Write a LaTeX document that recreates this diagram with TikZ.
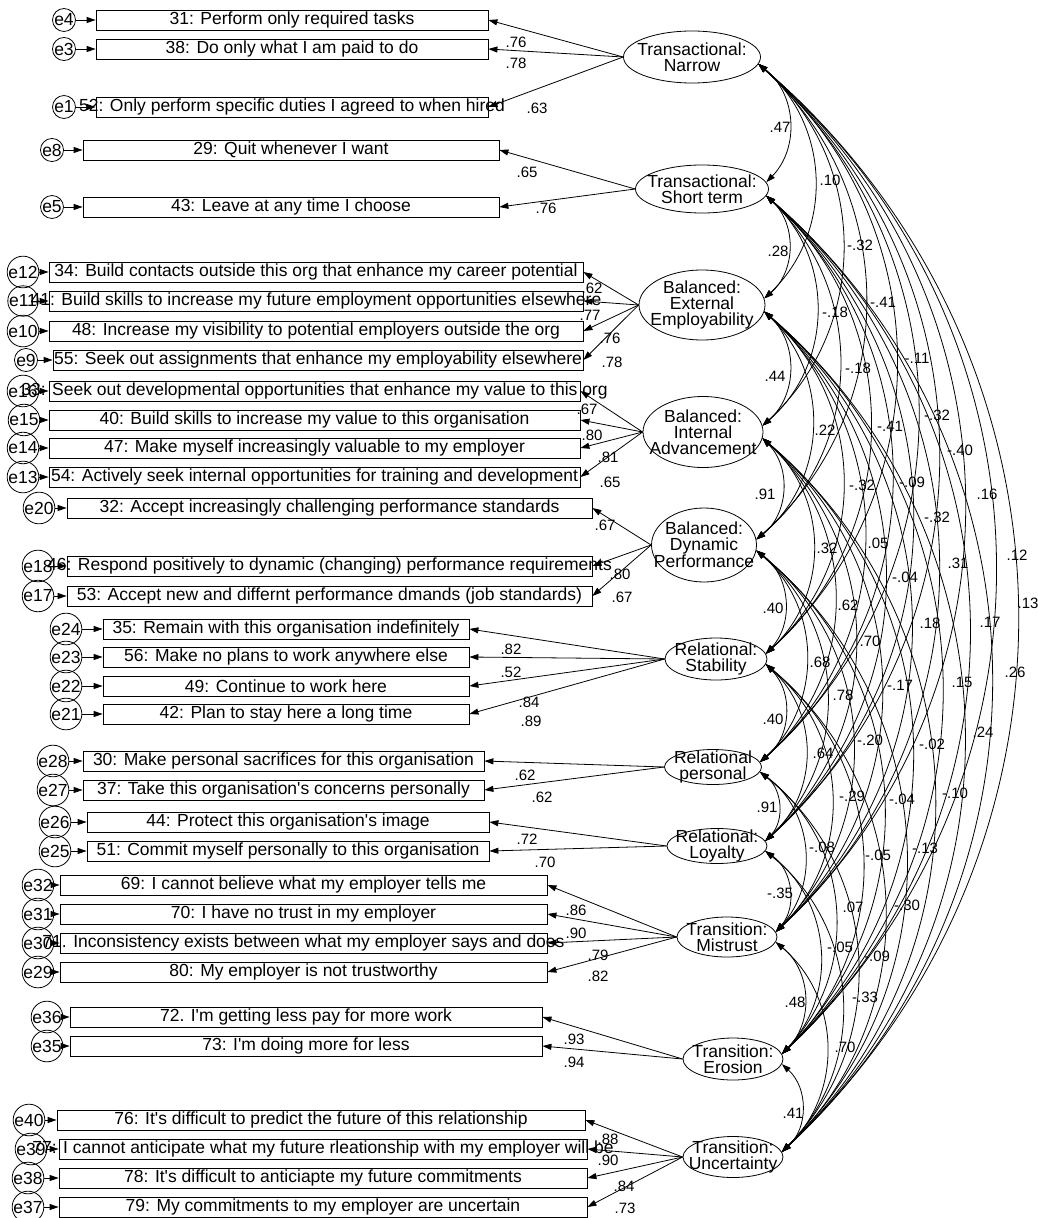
\documentclass[tikz,border=0pt]{standalone}
\usepackage{fontspec}
\setmainfont{Liberation Sans}[Ligatures=TeXOff]
\usetikzlibrary{arrows.meta,shapes.geometric,calc}

\begin{document}
\begin{tikzpicture}[x=1pt, y=-1pt, line width=0.8pt, >={Triangle[length=9pt,width=6pt]},
    box/.style={draw, minimum height=20pt, inner sep=0pt, font=\fontsize{17.5}{18}\selectfont,
      execute at begin node={\hbox to 0pt\bgroup\hss}, execute at end node={\hss\egroup}},
    err/.style={draw, circle, minimum size=19pt, inner sep=0pt, font=\fontsize{17.5}{18}\selectfont},
    lat/.style={draw, ellipse, inner sep=0pt},
    lattext/.style={align=center, inner sep=0pt, font=\fontsize{17.5}{16}\selectfont},
    lbl/.style={inner sep=0pt, font=\fontsize{15}{15}\selectfont},
    cov/.style={<->, to path={.. controls ($(\tikztostart)!0.407!48:(\tikztotarget)$)
      and ($(\tikztotarget)!0.407!-48:(\tikztostart)$) .. (\tikztotarget)}}]
    \useasboundingbox (0,0) rectangle (1037,1218);

    \node[lat, minimum width=137pt, minimum height=52pt] (TN) at (692,57) {};
    \node[lattext] (TNt) at (TN) {Transactional:\\Narrow};
    \node[lat, minimum width=133pt, minimum height=48pt] (TS) at (702,189) {};
    \node[lattext] (TSt) at (TS) {Transactional:\\Short term};
    \node[lat, minimum width=126pt, minimum height=70pt] (BE) at (702,305) {};
    \node[lattext] (BEt) at (BE) {Balanced:\\External\\Employability};
    \node[lat, minimum width=120pt, minimum height=71pt] (BI) at (703,432) {};
    \node[lattext] (BIt) at (BI) {Balanced:\\Internal\\Advancement};
    \node[lat, minimum width=105pt, minimum height=74pt] (BD) at (704,545) {};
    \node[lattext] (BDt) at (BD) {Balanced:\\Dynamic\\Performance};
    \node[lat, minimum width=102pt, minimum height=42pt] (RS) at (716,659) {};
    \node[lattext] (RSt) at (RS) {Relational:\\Stability};
    \node[lat, minimum width=97pt, minimum height=35pt] (RP) at (713,767) {};
    \node[lattext] (RPt) at (RP) {Relational\\personal};
    \node[lat, minimum width=100pt, minimum height=35pt] (RL) at (717,846) {};
    \node[lattext] (RLt) at (RL) {Relational:\\Loyalty};
    \node[lat, minimum width=100pt, minimum height=40pt] (TM) at (727,937) {};
    \node[lattext] (TMt) at (TM) {Transition:\\Mistrust};
    \node[lat, minimum width=100pt, minimum height=42pt] (TE) at (733,1059) {};
    \node[lattext] (TEt) at (TE) {Transition:\\Erosion};
    \node[lat, minimum width=100pt, minimum height=41pt] (TU) at (733,1157) {};
    \node[lattext] (TUt) at (TU) {Transition:\\Uncertainty};

    \node[box, minimum width=392pt] (i31) at (292,20) {31: Perform only required tasks};
    \node[box, minimum width=392pt] (i38) at (292,49) {38: Do only what I am paid to do};
    \node[box, minimum width=392pt] (i52) at (292,107) {52: Only perform specific duties I agreed to when hired};
    \node[err] (e4) at (64,20) {e4}; \draw[->] (e4) -- (i31);
    \node[err] (e3) at (64,49) {e3}; \draw[->] (e3) -- (i38);
    \node[err] (e1) at (64,107) {e1}; \draw[->] (e1) -- (i52);
    \draw[->] (TN.west) -- (i31.east); \draw[->] (TN.west) -- (i38.east); \draw[->] (TN.west) -- (i52.east);
    \node[lbl] (l31) at (516,42) {.76}; \node[lbl] (l38) at (516,63) {.78}; \node[lbl] (l52) at (537,108) {.63};

    \node[box, minimum width=416pt] (i29) at (291,150) {29: Quit whenever I want};
    \node[box, minimum width=416pt] (i43) at (291,207) {43: Leave at any time I choose};
    \node[err] (e8) at (52,150) {e8}; \draw[->] (e8) -- (i29);
    \node[err] (e5) at (52,207) {e5}; \draw[->] (e5) -- (i43);
    \draw[->] (TS.west) -- (i29.east); \draw[->] (TS.west) -- (i43.east);
    \node[lbl] (l29) at (527,172) {.65}; \node[lbl] (l43) at (546,208) {.76};

    \node[box, minimum width=534pt] (i34) at (316,272) {34: Build contacts outside this org that enhance my career potential};
    \node[box, minimum width=534pt] (i41) at (316,301) {41: Build skills to increase my future employment opportunities elsewhere};
    \node[box, minimum width=534pt] (i48) at (316,331) {48: Increase my visibility to potential employers outside the org};
    \node[box, minimum width=530pt] (i55) at (318,360) {55: Seek out assignments that enhance my employability elsewhere};
    \node[err] (e12) at (23,272) {e12}; \draw[->] (e12) -- (i34);
    \node[err] (e11) at (23,301) {e11}; \draw[->] (e11) -- (i41);
    \node[err] (e10) at (23,331) {e10}; \draw[->] (e10) -- (i48);
    \node[err] (e9) at (26,360) {e9}; \draw[->] (e9) -- (i55);
    \draw[->] (BE.west) -- (i34.east); \draw[->] (BE.west) -- (i41.east);
    \draw[->] (BE.west) -- (i48.east); \draw[->] (BE.west) -- (i55.east);
    \node[lbl] (l34) at (592,288) {.62}; \node[lbl] (l41) at (590,315) {.77};
    \node[lbl] (l48) at (610,338) {.76}; \node[lbl] (l55) at (612,362) {.78};

    \node[box, minimum width=531pt] (i33) at (314.5,391) {33: Seek out developmental opportunities that enhance my value to this org};
    \node[box, minimum width=531pt] (i40) at (314.5,420) {40: Build skills to increase my value to this organisation};
    \node[box, minimum width=531pt] (i47) at (314.5,448) {47: Make myself increasingly valuable to my employer};
    \node[box, minimum width=531pt] (i54) at (314.5,477) {54: Actively seek internal opportunities for training and development};
    \node[err] (e16) at (23,391) {e16}; \draw[->] (e16) -- (i33);
    \node[err] (e15) at (24,420) {e15}; \draw[->] (e15) -- (i40);
    \node[err] (e14) at (23,448) {e14}; \draw[->] (e14) -- (i47);
    \node[err] (e13) at (23,477) {e13}; \draw[->] (e13) -- (i54);
    \draw[->] (BI.west) -- (i33.east); \draw[->] (BI.west) -- (i40.east);
    \draw[->] (BI.west) -- (i47.east); \draw[->] (BI.west) -- (i54.east);
    \node[lbl] (l33) at (587,409) {.67}; \node[lbl] (l40) at (592,435) {.80};
    \node[lbl] (l47) at (608,457) {.81}; \node[lbl] (l54) at (610,482) {.65};

    \node[box, minimum width=525pt] (i32) at (329.5,508) {32: Accept increasingly challenging performance standards};
    \node[box, minimum width=525pt] (i46) at (329.5,566) {46: Respond positively to dynamic (changing) performance requirements};
    \node[box, minimum width=525pt] (i53) at (329.5,596) {53: Accept new and differnt performance dmands (job standards)};
    \node[err] (e20) at (39,508) {e20}; \draw[->] (e20) -- (i32);
    \node[err] (e18) at (38,566) {e18}; \draw[->] (e18) -- (i46);
    \node[err] (e17) at (38,596) {e17}; \draw[->] (e17) -- (i53);
    \draw[->] (BD.west) -- (i32.east); \draw[->] (BD.west) -- (i46.east); \draw[->] (BD.west) -- (i53.east);
    \node[lbl] (l32) at (605,525) {.67}; \node[lbl] (l46) at (620,574) {.80}; \node[lbl] (l53) at (622,597) {.67};

    \node[box, minimum width=366pt] (i35) at (286,629) {35: Remain with this organisation indefinitely};
    \node[box, minimum width=366pt] (i56) at (286,657) {56: Make no plans to work anywhere else};
    \node[box, minimum width=366pt] (i49) at (286,686) {49: Continue to work here};
    \node[box, minimum width=366pt] (i42) at (286,714) {42: Plan to stay here a long time};
    \node[err] (e24) at (66,629) {e24}; \draw[->] (e24) -- (i35);
    \node[err] (e23) at (66,657) {e23}; \draw[->] (e23) -- (i56);
    \node[err] (e22) at (66,686) {e22}; \draw[->] (e22) -- (i49);
    \node[err] (e21) at (66,714) {e21}; \draw[->] (e21) -- (i42);
    \draw[->] (RS.west) -- (i35.east); \draw[->] (RS.west) -- (i56.east);
    \draw[->] (RS.west) -- (i49.east); \draw[->] (RS.west) -- (i42.east);
    \node[lbl] (l35) at (511,649) {.82}; \node[lbl] (l56) at (511,672) {.52};
    \node[lbl] (l49) at (529,702) {.84}; \node[lbl] (l42) at (531,721) {.89};

    \node[box, minimum width=401pt] (i30) at (283.5,761) {30: Make personal sacrifices for this organisation};
    \node[box, minimum width=401pt] (i37) at (283.5,790) {37: Take this organisation's concerns personally};
    \node[err] (e28) at (53,761) {e28}; \draw[->] (e28) -- (i30);
    \node[err] (e27) at (53,790) {e27}; \draw[->] (e27) -- (i37);
    \draw[->] (RP.west) -- (i30.east); \draw[->] (RP.west) -- (i37.east);
    \node[lbl] (l30) at (525,775) {.62}; \node[lbl] (l37) at (542,797) {.62};

    \node[box, minimum width=402pt] (i44) at (288,822) {44: Protect this organisation's image};
    \node[box, minimum width=402pt] (i51) at (288,851) {51: Commit myself personally to this organisation};
    \node[err] (e26) at (55,822) {e26}; \draw[->] (e26) -- (i44);
    \node[err] (e25) at (55,851) {e25}; \draw[->] (e25) -- (i51);
    \draw[->] (RL.west) -- (i44.east); \draw[->] (RL.west) -- (i51.east);
    \node[lbl] (l44) at (527,839) {.72}; \node[lbl] (l51) at (545,862) {.70};

    \node[box, minimum width=487pt] (i69) at (303.5,885) {69: I cannot believe what my employer tells me};
    \node[box, minimum width=487pt] (i70) at (303.5,914) {70: I have no trust in my employer};
    \node[box, minimum width=487pt] (i71) at (303.5,943) {71. Inconsistency exists between what my employer says and does};
    \node[box, minimum width=487pt] (i80) at (303.5,972) {80: My employer is not trustworthy};
    \node[err] (e32) at (38,885) {e32}; \draw[->] (e32) -- (i69);
    \node[err] (e31) at (38,914) {e31}; \draw[->] (e31) -- (i70);
    \node[err] (e30) at (38,943) {e30}; \draw[->] (e30) -- (i71);
    \node[err] (e29) at (38,972) {e29}; \draw[->] (e29) -- (i80);
    \draw[->] (TM.west) -- (i69.east); \draw[->] (TM.west) -- (i70.east);
    \draw[->] (TM.west) -- (i71.east); \draw[->] (TM.west) -- (i80.east);
    \node[lbl] (l69) at (576,910) {.86}; \node[lbl] (l70) at (576,933) {.90};
    \node[lbl] (l71) at (598,955) {.79}; \node[lbl] (l80) at (598,976) {.82};

    \node[box, minimum width=472pt] (i72) at (306,1017) {72. I'm getting less pay for more work};
    \node[box, minimum width=472pt] (i73) at (306,1046) {73: I'm doing more for less};
    \node[err] (e36) at (47,1017) {e36}; \draw[->] (e36) -- (i72);
    \node[err] (e35) at (47,1046) {e35}; \draw[->] (e35) -- (i73);
    \draw[->] (TE.west) -- (i72.east); \draw[->] (TE.west) -- (i73.east);
    \node[lbl] (l72) at (574,1039) {.93}; \node[lbl] (l73) at (574,1062) {.94};

    \node[box, minimum width=528pt] (i76) at (321,1120) {76: It's difficult to predict the future of this relationship};
    \node[box, minimum width=528pt] (i77) at (323,1149) {77: I cannot anticipate what my future rleationship with my employer will be};
    \node[box, minimum width=528pt] (i78) at (323,1178) {78: It's difficult to anticiapte my future commitments};
    \node[box, minimum width=528pt] (i79) at (323,1207) {79: My commitments to my employer are uncertain};
    \node[err] (e40) at (29,1120) {e40}; \draw[->] (e40) -- (i76);
    \node[err] (e39) at (31,1149) {e39}; \draw[->] (e39) -- (i77);
    \node[err] (e38) at (28,1178) {e38}; \draw[->] (e38) -- (i78);
    \node[err] (e37) at (28,1207) {e37}; \draw[->] (e37) -- (i79);
    \draw[->] (TU.west) -- (i76.east); \draw[->] (TU.west) -- (i77.east);
    \draw[->] (TU.west) -- (i78.east); \draw[->] (TU.west) -- (i79.east);
    \node[lbl] (l76) at (608,1139) {.88}; \node[lbl] (l77) at (608,1160) {.90};
    \node[lbl] (l78) at (624,1186) {.84}; \node[lbl] (l79) at (625,1208) {.73};

    \draw[cov] (TN.-6) to (TS.6); \draw[cov] (TN.-6) to (BE.6); \draw[cov] (TN.-6) to (BI.6);
    \draw[cov] (TN.-6) to (BD.6); \draw[cov] (TN.-6) to (RS.6); \draw[cov] (TN.-6) to (RP.6);
    \draw[cov] (TN.-6) to (RL.6); \draw[cov] (TN.-6) to (TM.6); \draw[cov] (TN.-6) to (TE.6);
    \draw[cov] (TN.-6) to (TU.6);
    \draw[cov] (TS.-6) to (BE.6); \draw[cov] (TS.-6) to (BI.6); \draw[cov] (TS.-6) to (BD.6);
    \draw[cov] (TS.-6) to (RS.6); \draw[cov] (TS.-6) to (RP.6); \draw[cov] (TS.-6) to (RL.6);
    \draw[cov] (TS.-6) to (TM.6); \draw[cov] (TS.-6) to (TE.6); \draw[cov] (TS.-6) to (TU.6);
    \draw[cov] (BE.-6) to (BI.6); \draw[cov] (BE.-6) to (BD.6); \draw[cov] (BE.-6) to (RS.6);
    \draw[cov] (BE.-6) to (RP.6); \draw[cov] (BE.-6) to (RL.6); \draw[cov] (BE.-6) to (TM.6);
    \draw[cov] (BE.-6) to (TE.6); \draw[cov] (BE.-6) to (TU.6);
    \draw[cov] (BI.-6) to (BD.6); \draw[cov] (BI.-6) to (RS.6); \draw[cov] (BI.-6) to (RP.6);
    \draw[cov] (BI.-6) to (RL.6); \draw[cov] (BI.-6) to (TM.6); \draw[cov] (BI.-6) to (TE.6);
    \draw[cov] (BI.-6) to (TU.6);
    \draw[cov] (BD.-6) to (RS.6); \draw[cov] (BD.-6) to (RP.6); \draw[cov] (BD.-6) to (RL.6);
    \draw[cov] (BD.-6) to (TM.6); \draw[cov] (BD.-6) to (TE.6); \draw[cov] (BD.-6) to (TU.6);
    \draw[cov] (RS.-6) to (RP.6); \draw[cov] (RS.-6) to (RL.6); \draw[cov] (RS.-6) to (TM.6);
    \draw[cov] (RS.-6) to (TE.6); \draw[cov] (RS.-6) to (TU.6);
    \draw[cov] (RP.-6) to (RL.6); \draw[cov] (RP.-6) to (TM.6); \draw[cov] (RP.-6) to (TE.6);
    \draw[cov] (RP.-6) to (TU.6);
    \draw[cov] (RL.-6) to (TM.6); \draw[cov] (RL.-6) to (TE.6); \draw[cov] (RL.-6) to (TU.6);
    \draw[cov] (TM.-6) to (TE.6); \draw[cov] (TM.-6) to (TU.6);
    \draw[cov] (TE.-6) to (TU.6);

    \node[lbl] (kab) at (780,127) {.47}; \node[lbl] (kbc) at (778,251) {.28};
    \node[lbl] (kcd) at (775,376) {.44}; \node[lbl] (kde) at (765,494) {.91};
    \node[lbl] (kef) at (773,608) {.40}; \node[lbl] (kfg) at (773,719) {.40};
    \node[lbl] (kgh) at (767,807) {.91}; \node[lbl] (khi) at (780,893) {-.35};
    \node[lbl] (kij) at (795,1002) {.48}; \node[lbl] (kjk) at (793,1113) {.41};
    \node[lbl] (kac) at (830,180) {.10}; \node[lbl] (kbd) at (835,312) {-.18};
    \node[lbl] (kce) at (825,430) {.22}; \node[lbl] (kdf) at (827,548) {.32};
    \node[lbl] (keg) at (820,662) {.68}; \node[lbl] (kfh) at (823,753) {.64};
    \node[lbl] (kgi) at (822,847) {-.08}; \node[lbl] (khj) at (840,947) {-.05};
    \node[lbl] (kik) at (845,1047) {.70};
    \node[lbl] (kad) at (860,245) {-.32}; \node[lbl] (kbe) at (858,368) {-.18};
    \node[lbl] (kcf) at (862,485) {-.32}; \node[lbl] (kdg) at (848,605) {.62};
    \node[lbl] (keh) at (843,695) {.78}; \node[lbl] (kfi) at (852,796) {-.29};
    \node[lbl] (kgj) at (853,907) {.07}; \node[lbl] (khk) at (865,997) {-.33};
    \node[lbl] (kae) at (883,302) {-.41}; \node[lbl] (kbf) at (890,426) {-.41};
    \node[lbl] (kcg) at (878,543) {.05}; \node[lbl] (kdh) at (870,641) {.70};
    \node[lbl] (kei) at (870,740) {-.20}; \node[lbl] (kfj) at (878,855) {-.05};
    \node[lbl] (kgk) at (877,956) {-.09};
    \node[lbl] (kaf) at (917,358) {-.11}; \node[lbl] (kbg) at (912,482) {-.09};
    \node[lbl] (kch) at (905,577) {-.04}; \node[lbl] (kdi) at (900,685) {-.17};
    \node[lbl] (kej) at (902,799) {-.04}; \node[lbl] (kfk) at (907,905) {-.30};
    \node[lbl] (kag) at (937,415) {-.32}; \node[lbl] (kbh) at (937,517) {-.32};
    \node[lbl] (kci) at (930,623) {.18}; \node[lbl] (kdj) at (932,744) {-.02};
    \node[lbl] (kek) at (925,848) {-.13};
    \node[lbl] (kah) at (960,450) {-.40}; \node[lbl] (kbi) at (958,563) {.31};
    \node[lbl] (kcj) at (962,682) {.15}; \node[lbl] (kdk) at (955,793) {-.10};
    \node[lbl] (kai) at (987,494) {.16}; \node[lbl] (kbj) at (990,622) {.17};
    \node[lbl] (kck) at (983,732) {.24};
    \node[lbl] (kaj) at (1017,555) {.12}; \node[lbl] (kbk) at (1015,672) {.26};
    \node[lbl] (kak) at (1028,603) {.13};
\end{tikzpicture}
\end{document}
